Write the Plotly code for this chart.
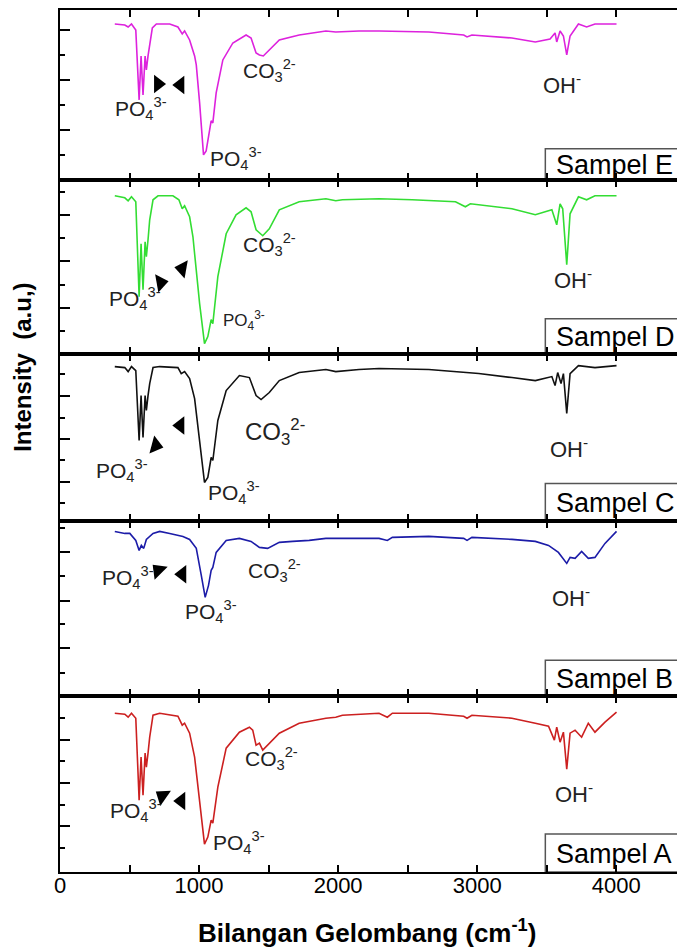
import plotly.graph_objects as go

# ---------------- data ----------------
samples = ["Sampel E", "Sampel D", "Sampel C", "Sampel B", "Sampel A"]
colors = ["#dd22dd", "#33dd33", "#111111", "#1c1ca8", "#cc2020"]

wn_E = [394, 466, 490, 514, 545, 569, 583, 597, 612, 621, 633, 645, 664, 693, 789, 848, 879, 896, 932, 968,
        980, 1004, 1032, 1051, 1075, 1087, 1099, 1123, 1171, 1243, 1338, 1374, 1410, 1434, 1462, 1505, 1577,
        1720, 1912, 1983, 2150, 2294, 2652, 2903, 2927, 2962, 3250, 3418, 3524, 3560, 3572, 3596, 3620, 3644,
        3668, 3728, 3787, 3847, 4002]
int_E = [156, 155, 153, 156, 150, 80, 124, 85, 124, 110, 124, 134, 152, 156, 156, 153, 146, 149, 140, 124,
         115, 77, 25, 29, 50, 59, 57, 87, 120, 137, 145, 142, 127, 125, 124, 130, 140,
         145, 149, 148, 149, 149, 148, 145, 143, 145, 142, 138, 141, 147, 138, 149, 144, 125,
         144, 156, 153, 156, 156]

wn_D = [394, 466, 490, 514, 545, 569, 583, 597, 612, 621, 633, 645, 669, 705, 812, 855, 879, 896, 932, 956,
        968, 1004, 1039, 1063, 1087, 1099, 1135, 1195, 1266, 1338, 1374, 1410, 1458, 1505, 1577, 1720, 1912,
        1983, 2031, 2294, 2533, 2844, 2915, 2951, 3250, 3418, 3537, 3572, 3596, 3615, 3644, 3668, 3728, 3787,
        3847, 4002]
int_D = [158, 156, 153, 157, 152, 57, 110, 64, 112, 97, 114, 134, 154, 158, 158, 154, 145, 148, 137, 117,
         100, 50, 10, 17, 34, 30, 77, 120, 139, 146, 142, 124, 118, 125, 144, 152, 155,
         153, 154, 155, 154, 152, 147, 150, 145, 139, 144, 129, 150, 145, 89, 140, 157, 154,
         158, 158]

wn_C = [394, 466, 490, 514, 545, 569, 583, 597, 612, 621, 633, 645, 669, 717, 848, 872, 896, 932, 968, 1004,
        1039, 1063, 1087, 1099, 1135, 1195, 1290, 1362, 1410, 1446, 1505, 1577, 1720, 1912, 1983, 2150, 2294,
        2652, 3011, 3250, 3418, 3537, 3560, 3579, 3603, 3620, 3644, 3668, 3728, 3847, 4002]
int_C = [155, 154, 150, 155, 151, 81, 126, 84, 126, 111, 126, 138, 154, 155, 154, 148, 150, 143, 123, 81,
         39, 44, 64, 61, 101, 131, 146, 144, 126, 122, 129, 141, 149, 152, 150, 152, 153,
         152, 148, 144, 141, 145, 136, 149, 138, 148, 108, 148, 156, 154, 156]

wn_B = [394, 466, 502, 545, 569, 585, 602, 621, 669, 717, 789, 884, 932, 980, 1016, 1044, 1068, 1087, 1099,
        1123, 1195, 1290, 1374, 1434, 1493, 1577, 1673, 1792, 1912, 2294, 2354, 2390, 2652, 2903, 2927, 2962,
        3250, 3418, 3513, 3584, 3644, 3668, 3704, 3751, 3799, 3847, 3919, 4002]
int_B = [165, 163, 163, 156, 146, 151, 148, 157, 163, 165, 163, 160, 157, 148, 121, 99, 111, 126, 129,
         144, 156, 158, 155, 149, 148, 154, 155, 156, 158, 158, 156, 159, 160, 158, 156, 159,
         157, 155, 151, 144, 133, 139, 138, 145, 138, 139, 153, 165]

wn_A = [394, 466, 490, 514, 545, 569, 583, 597, 612, 621, 633, 645, 669, 717, 848, 879, 896, 932, 968, 1004,
        1039, 1063, 1087, 1099, 1135, 1195, 1290, 1362, 1386, 1410, 1434, 1458, 1505, 1577, 1720, 1912, 1983,
        2031, 2294, 2354, 2390, 2652, 2903, 2927, 2962, 3250, 3418, 3513, 3555, 3572, 3596, 3620, 3644, 3668,
        3704, 3751, 3799, 3847, 3919, 4002]
int_A = [159, 158, 155, 159, 154, 72, 115, 77, 119, 105, 119, 135, 157, 159, 156, 147, 149, 139, 115, 72,
         28, 35, 52, 49, 85, 124, 140, 145, 142, 127, 129, 122, 129, 139, 149, 154, 155,
         157, 159, 155, 159, 159, 156, 154, 157, 154, 149, 146, 132, 145, 130, 140, 103, 139,
         142, 135, 149, 140, 150, 160]

wavenumbers = [wn_E, wn_D, wn_C, wn_B, wn_A]
intensities = [int_E, int_D, int_C, int_B, int_A]

# panel layout (top to bottom) and y ranges in a.u.
domains = [[0.8030, 1.0], [0.6014, 0.8030], [0.4067, 0.6014], [0.2039, 0.4067], [0.0, 0.2039]]
y_max = [170, 174, 168, 175, 176]
major_ticks = [[50, 100, 150], [46, 93, 139], [39, 83, 126], [48, 95, 144], [46, 89, 132]]
minor_ticks = [[25, 75, 125], [23, 69, 116, 162], [18, 61, 104, 148], [23, 72, 120, 168], [24, 67, 111, 154]]
x_tick_vals = [0, 500, 1000, 1500, 2000, 2500, 3000, 3500, 4000]
x_tick_labels = ["0", "", "1000", "", "2000", "", "3000", "", "4000"]

# peak labels: (text, wavenumber, intensity, size)
PO = "PO<sub>4</sub><sup>3-</sup>"
CO = "CO<sub>3</sub><sup>2-</sup>"
OH = "OH<sup>-</sup>"
labels = [
    [(PO, 580, 71, 21), (PO, 1269, 21, 21), (CO, 1507, 109, 21), (OH, 3613, 96, 22)],
    [(PO, 538, 55, 21), (PO, 1326, 33, 17), (CO, 1505, 109, 21), (OH, 3692, 75, 22)],
    [(PO, 447, 51, 21), (PO, 1250, 29, 21), (CO, 1547, 90, 24), (OH, 3660, 74, 22)],
    [(PO, 488, 119, 21), (PO, 1088, 85, 21), (CO, 1540, 126, 21), (OH, 3677, 99, 22)],
    [(PO, 545, 62, 21), (PO, 1290, 30, 21), (CO, 1520, 114, 21), (OH, 3695, 79, 22)],
]
# arrow heads: (wavenumber, intensity, symbol, angle)
arrows = [
    [(705, 96, "triangle-right", 0), (865, 95, "triangle-left", 0)],
    [(724, 71, "triangle-right", -10), (879, 85, "triangle-left", 10)],
    [(688, 76, "triangle-right", 15), (865, 96, "triangle-left", 0)],
    [(707, 126, "triangle-left", 45), (879, 122, "triangle-left", 0)],
    [(736, 76, "triangle-left", 35), (872, 71, "triangle-left", 0)],
]
box_top = [31, 35, 38, 36, 38]

FONT = "Liberation Sans, Arial, sans-serif"
fig = go.Figure()
annotations = []
shapes = []

for i in range(5):
    n = i + 1
    xa = "x" if n == 1 else f"x{n}"
    ya = "y" if n == 1 else f"y{n}"
    fig.add_trace(go.Scatter(x=wavenumbers[i], y=intensities[i], mode="lines",
                             line=dict(color=colors[i], width=1.6), xaxis=xa, yaxis=ya,
                             showlegend=False, hoverinfo="skip"))
    fig.add_trace(go.Scatter(x=[a[0] for a in arrows[i]], y=[a[1] for a in arrows[i]], mode="markers",
                             marker=dict(symbol=[a[2] for a in arrows[i]], angle=[a[3] for a in arrows[i]],
                                         size=16, color="black"),
                             xaxis=xa, yaxis=ya, showlegend=False, hoverinfo="skip"))
    for (t, x, y, s) in labels[i]:
        annotations.append(dict(text=t, x=x, y=y, xref=xa, yref=ya, showarrow=False,
                                font=dict(family=FONT, size=s, color="#222222")))
    shapes.append(dict(type="rect", xref=xa, yref=ya, x0=3490, x1=4700, y0=0, y1=box_top[i],
                       line=dict(color="#555555", width=1.5), fillcolor="white", layer="below"))
    annotations.append(dict(text=samples[i], x=3555, y=box_top[i] / 2 - 1, xref=xa, yref=ya,
                            xanchor="left", yanchor="middle", showarrow=False,
                            font=dict(family=FONT, size=27, color="black")))

    xaxis = dict(domain=[0, 1], range=[0, 4480], anchor=ya, showline=True, linewidth=2, linecolor="black",
                 mirror="ticks", ticks="inside", ticklen=7, tickwidth=1.5, tickcolor="black",
                 tickvals=x_tick_vals, ticktext=x_tick_labels,
                 showgrid=False, zeroline=False, showticklabels=(n == 5), ticklabelstandoff=-7,
                 tickfont=dict(family=FONT, size=22, color="black"))
    if n != 1:
        xaxis["matches"] = "x"
    yaxis = dict(domain=domains[i], range=[0, y_max[i]], anchor=xa, showline=True, linewidth=2,
                 linecolor="black", mirror=True, ticks="inside", ticklen=10, tickwidth=1.5,
                 tickcolor="black", tickvals=major_ticks[i], showticklabels=False, showgrid=False,
                 zeroline=False,
                 minor=dict(tickvals=minor_ticks[i], ticks="inside", ticklen=5, tickwidth=1.5,
                            tickcolor="black", showgrid=False))
    fig.layout["xaxis" if n == 1 else f"xaxis{n}"] = xaxis
    fig.layout["yaxis" if n == 1 else f"yaxis{n}"] = yaxis

annotations.append(dict(text="<b>Bilangan Gelombang (cm<sup>-1</sup>)</b>", x=0.493, y=-0.0695,
                        xref="paper", yref="paper", showarrow=False, xanchor="center", yanchor="middle",
                        font=dict(family=FONT, size=26, color="black")))
annotations.append(dict(text="<b>Intensity  (a.u,)</b>", x=-0.0595, y=0.586, xref="paper", yref="paper",
                        textangle=-90, showarrow=False, xanchor="center", yanchor="middle",
                        font=dict(family=FONT, size=24, color="black")))

fig.update_layout(width=677, height=942, margin=dict(l=52, r=0, t=1, b=78),
                  paper_bgcolor="white", plot_bgcolor="white",
                  annotations=annotations, shapes=shapes, showlegend=False)

fig.write_html("out.html")
